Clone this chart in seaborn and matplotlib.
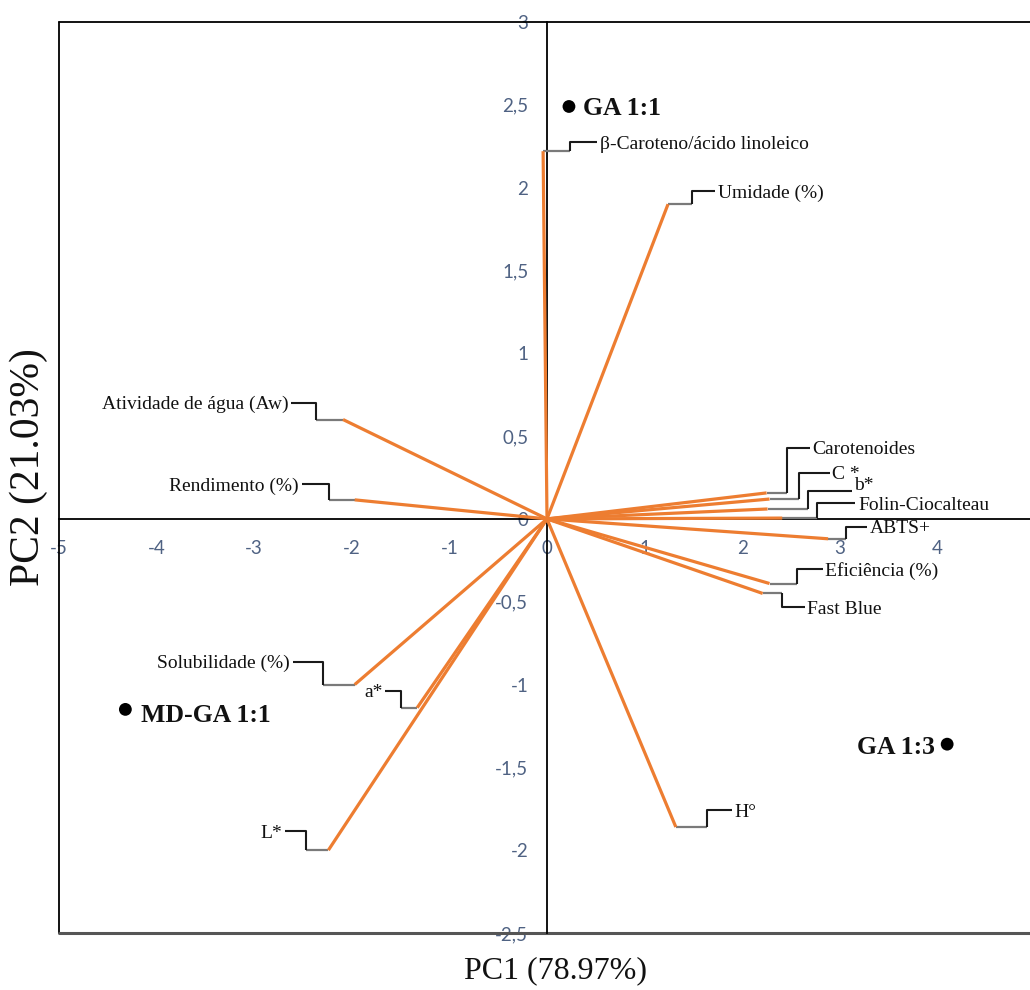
import numpy as np
import pandas as pd
import matplotlib
matplotlib.use("Agg")
import matplotlib.pyplot as plt
from matplotlib.ticker import FuncFormatter, FixedLocator
import seaborn as sns

# PCA loadings (variables) on PC1 / PC2
variables = [
    "β-Caroteno/ácido linoleico", "Umidade (%)", "Atividade de água (Aw)",
    "Rendimento (%)", "Carotenoides", "C *", "b*", "Folin-Ciocalteau",
    "ABTS+", "Eficiência (%)", "Fast Blue", "Solubilidade (%)", "a*", "L*", "H°",
]
pc1_loadings = [-0.04, 1.24, -2.09, -1.97, 2.25, 2.28, 2.26, 2.41,
                2.88, 2.28, 2.21, -1.97, -1.33, -2.24, 1.32]
pc2_loadings = [2.22, 1.90, 0.60, 0.115, 0.157, 0.12, 0.06, 0.005,
                -0.12, -0.39, -0.45, -1.00, -1.14, -2.00, -1.86]

# PCA scores (samples)
samples = ["GA 1:1", "MD-GA 1:1", "GA 1:3"]
pc1_scores = [0.225, -4.32, 4.10]
pc2_scores = [2.49, -1.15, -1.36]

x_ticks = [-5, -4, -3, -2, -1, 0, 1, 2, 3, 4]
y_ticks = [-2.5, -2, -1.5, -1, -0.5, 0, 0.5, 1, 1.5, 2, 2.5, 3]

x_title = "PC1 (78.97%)"
y_title = "PC2 (21.03%)"

# Elbow leader geometry in pixels: (first horizontal, vertical rise, second horizontal)
leaders = {
    "β-Caroteno/ácido linoleico": (27, 9, 27),
    "Umidade (%)": (24, 13, 23),
    "Atividade de água (Aw)": (-27, 17, -25),
    "Rendimento (%)": (-26, 16, -27),
    "Carotenoides": (20, 45, 23),
    "C *": (29, 26, 31),
    "b*": (40, 18, 44),
    "Folin-Ciocalteau": (35, 15, 38),
    "ABTS+": (18, 12, 21),
    "Eficiência (%)": (27, 15, 26),
    "Fast Blue": (19, -14, 23),
    "Solubilidade (%)": (-32, 23, -30),
    "a*": (-16, 17, -16),
    "L*": (-22, 19, -21),
    "H°": (31, 17, 25),
}
# Extra vertical shift (points) of a few names relative to their leader end
label_shift = {"b*": 5.5, "C *": 0.5}

# Sample label offsets in points (dx, dy) and horizontal alignment
sample_offsets = {
    "GA 1:1": (10, -1.5, "left"),
    "MD-GA 1:1": (11, -4.5, "left"),
    "GA 1:3": (-9, -2.5, "right"),
}

sns.set_theme(style="white")
plt.rcParams["font.family"] = ["Liberation Serif", "DejaVu Serif"]

ORANGE = "#ED7D31"
TICK_COLOR = "#4F6283"

fig = plt.figure(figsize=(10.3, 9.9), dpi=100)
ax = fig.add_axes([59 / 1030, 57 / 990, 971 / 1030, 911 / 990])
ax.set_facecolor("white")
ax.set_xlim(-5, -5 + 971 / 97.6)
ax.set_ylim(-2.5, 3)

# Axes crossing at the origin
for side in ["right", "top"]:
    ax.spines[side].set_visible(False)
ax.spines["left"].set_position(("data", 0))
ax.spines["bottom"].set_position(("data", 0))
for side in ["left", "bottom"]:
    ax.spines[side].set_color("black")
    ax.spines[side].set_linewidth(1.3)
    ax.spines[side].set_zorder(1)

# Outer frame (left, top, bottom)
frame_kw = dict(transform=ax.transAxes, color="black", lw=1.3, clip_on=False, zorder=1)
ax.plot([0, 0], [0, 1], **frame_kw)
ax.plot([0, 1], [1, 1], **frame_kw)
ax.plot([0, 1], [0, 0], color="#555555", lw=2.2, transform=ax.transAxes, clip_on=False, zorder=1)

comma = FuncFormatter(lambda v, p: f"{v:g}".replace(".", ","))
ax.xaxis.set_major_locator(FixedLocator(x_ticks))
ax.yaxis.set_major_locator(FixedLocator(y_ticks))
ax.xaxis.set_major_formatter(comma)
ax.yaxis.set_major_formatter(comma)
ax.tick_params(axis="x", length=0, pad=15.5, labelsize=13.5, labelcolor=TICK_COLOR)
ax.tick_params(axis="y", length=0, pad=13.5, labelsize=13.5, labelcolor=TICK_COLOR)
for lab in ax.get_xticklabels() + ax.get_yticklabels():
    lab.set_fontfamily(["Lato", "DejaVu Sans"])

# Loading vectors from the origin
loadings = pd.DataFrame({"variable": variables, "PC1": pc1_loadings, "PC2": pc2_loadings})
for _, row in loadings.iterrows():
    ax.plot([0, row["PC1"]], [0, row["PC2"]], color=ORANGE, lw=2.3,
            solid_capstyle="butt", zorder=3)

# Elbow leaders and variable names
fig.canvas.draw()
to_disp = ax.transData.transform
to_data = ax.transData.inverted().transform
for _, row in loadings.iterrows():
    name = row["variable"]
    h1, v, h2 = leaders[name]
    x0, y0 = to_disp((row["PC1"], row["PC2"]))
    pts = np.array([[x0, y0], [x0 + h1, y0], [x0 + h1, y0 + v], [x0 + h1 + h2, y0 + v]])
    dpts = to_data(pts)
    ax.plot(dpts[:2, 0], dpts[:2, 1], color="#7a7a7a", lw=1.6, zorder=2,
            solid_capstyle="butt")
    ax.plot(dpts[1:, 0], dpts[1:, 1], color="#1a1a1a", lw=1.5, zorder=2,
            solid_capstyle="butt")
    ha = "left" if h2 > 0 else "right"
    dy = -1.5 + label_shift.get(name, 0)
    ax.annotate(name, xy=dpts[3], xytext=(2 if h2 > 0 else -2, dy),
                textcoords="offset points", ha=ha, va="center",
                fontsize=14, color="#111111", zorder=4)

# Sample scores
scores = pd.DataFrame({"sample": samples, "PC1": pc1_scores, "PC2": pc2_scores})
sns.scatterplot(data=scores, x="PC1", y="PC2", color="black", s=85,
                edgecolor="none", ax=ax, zorder=5, legend=False)
for _, row in scores.iterrows():
    dx, dy, ha = sample_offsets[row["sample"]]
    ax.annotate(row["sample"], xy=(row["PC1"], row["PC2"]), xytext=(dx, dy),
                textcoords="offset points", ha=ha, va="center",
                fontsize=18.5, fontweight="bold", color="#111111", zorder=5)
ax.set_xlabel("")
ax.set_ylabel("")

# Axis titles
fig.text(556 / 1030, 1 - 971 / 990, x_title, ha="center", va="center",
         fontsize=23, color="#111111")
fig.text(29 / 1030, 1 - 467 / 990, y_title, ha="center", va="center",
         rotation=90, fontsize=30, color="#111111")

fig.savefig("out.png", dpi=100)
